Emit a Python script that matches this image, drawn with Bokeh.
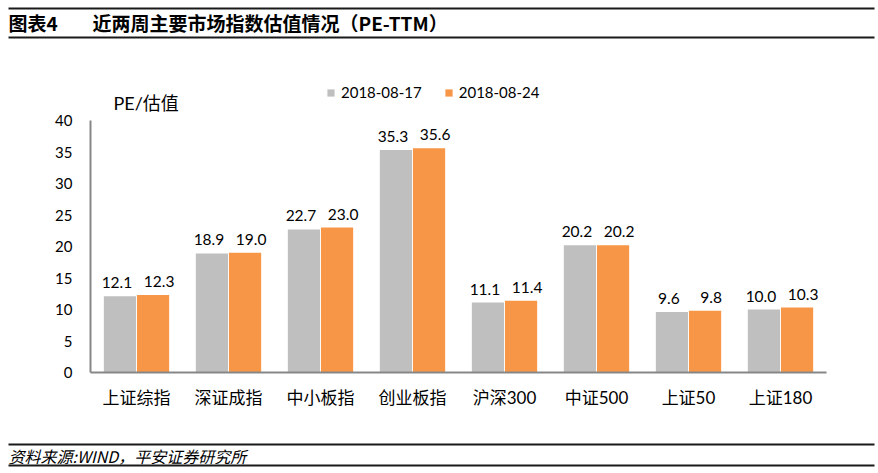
from bokeh.plotting import figure
from bokeh.layouts import column, row
from bokeh.models import (ColumnDataSource, FactorRange, Range1d, FixedTicker, Label,
                          Legend, LegendItem)
from bokeh.transform import dodge
from bokeh.core.properties import value
from bokeh.embed import file_html
from bokeh.resources import INLINE

categories = ["上证综指", "深证成指", "中小板指", "创业板指", "沪深300", "中证500", "上证50", "上证180"]
series_names = ["2018-08-17", "2018-08-24"]
pe_0817 = [12.1, 18.9, 22.7, 35.3, 11.1, 20.2, 9.6, 10.0]
pe_0824 = [12.3, 19.0, 23.0, 35.6, 11.4, 20.2, 9.8, 10.3]
y_ticks = [0, 5, 10, 15, 20, 25, 30, 35, 40]
title_tag = "图表4"
title_text = "近两周主要市场指数估值情况（PE-TTM）"
y_title = "PE/估值"
source_text = "资料来源:WIND，平安证券研究所"

FONT = "Lato, 'Noto Sans CJK SC', sans-serif"
CJK = "'Noto Sans CJK SC', sans-serif"
GRAY = "#BFBFBF"
ORANGE = "#F79646"
RULE = "#1a1a1a"

W = 878
HEAD_H, MAIN_H, FOOT_H = 40, 400, 33


def blank(height, y0, y1):
    f = figure(width=W, height=height, output_backend="svg", toolbar_location=None,
               x_range=Range1d(0, W), y_range=Range1d(y0, y1),
               min_border=0, min_border_left=0, min_border_right=0,
               min_border_top=0, min_border_bottom=0,
               x_axis_location=None, y_axis_location=None)
    f.outline_line_color = None
    f.grid.grid_line_color = None
    return f


# ---- header (page coords, y downward) ----
head = blank(HEAD_H, HEAD_H, 0)
head.segment(x0=[8, 8], x1=[874, 874], y0=[8, 37], y1=[8, 37], line_color=RULE, line_width=2)
head.text(x=[8], y=[22], text=[title_tag], text_font=value(CJK), text_font_size="19px",
          text_font_style="bold", text_baseline="middle", text_color="#000000")
head.text(x=[92], y=[22], text=[title_text], text_font=value(CJK), text_font_size="19px",
          text_font_style="bold", text_baseline="middle", text_color="#000000")

# ---- main chart ----
src = ColumnDataSource(dict(
    cat=categories,
    a=pe_0817,
    b=pe_0824,
    a_txt=[f"{v:.1f}" for v in pe_0817],
    b_txt=[f"{v:.1f}" for v in pe_0824],
))

BOTTOM = 68
frame_h = MAIN_H - BOTTOM
y_top = 40 * frame_h / 252.0
p = figure(width=W, height=MAIN_H, output_backend="svg", toolbar_location=None,
           x_range=FactorRange(factors=categories, range_padding=0),
           y_range=Range1d(0, y_top),
           min_border_left=90, min_border_right=W - 826, min_border_top=0, min_border_bottom=BOTTOM)
p.outline_line_color = None
p.xgrid.grid_line_color = None
p.ygrid.grid_line_color = None

r1 = p.vbar(x=dodge("cat", -0.18, range=p.x_range), top="a", width=0.35, source=src,
            fill_color=GRAY, line_color=None)
r2 = p.vbar(x=dodge("cat", 0.18, range=p.x_range), top="b", width=0.35, source=src,
            fill_color=ORANGE, line_color=None)

for col, top, off, xo in (("a_txt", "a", -0.18, -3), ("b_txt", "b", 0.18, 6)):
    p.text(x=dodge("cat", off, range=p.x_range), y=top, text=col, source=src,
           text_align="center", text_baseline="bottom", x_offset=xo, y_offset=-8,
           text_font=value(FONT), text_font_size="15.5px", text_color="#000000")

p.yaxis.ticker = FixedTicker(ticks=y_ticks)
p.yaxis.bounds = (0, 40)
for ax in (p.xaxis, p.yaxis):
    ax.axis_line_color = "#878787"
    ax.axis_line_width = 2
    ax.major_tick_line_color = None
    ax.minor_tick_line_color = None
    ax.major_tick_out = 0
    ax.major_tick_in = 0
    ax.major_label_text_font = FONT
    ax.major_label_text_color = "#000000"
p.yaxis.major_label_text_font_size = "15px"
p.xaxis.major_label_text_font_size = "17px"
p.yaxis.major_label_standoff = 18
p.xaxis.major_label_standoff = 14

legend = Legend(items=[LegendItem(label=series_names[0], renderers=[r1]),
                       LegendItem(label=series_names[1], renderers=[r2])],
                orientation="horizontal", location=(236, 271),
                glyph_width=9, glyph_height=9, label_standoff=6, spacing=22,
                padding=0, margin=0, border_line_color=None, background_fill_alpha=0,
                label_text_font=FONT, label_text_font_size="15px", label_text_color="#000000")
p.add_layout(legend)

p.add_layout(Label(x=23, y=frame_h - 62, x_units="screen", y_units="screen", text=y_title,
                   text_font=FONT, text_font_size="18px", text_baseline="middle",
                   text_color="#000000"))

# ---- footer (page coords, y downward) ----
foot = blank(FOOT_H, 473, 440)
foot.segment(x0=[8, 8], x1=[874, 874], y0=[444, 465], y1=[444, 465], line_color=RULE, line_width=2)
foot.text(x=[8], y=[455], text=[source_text], text_font=value(CJK), text_font_size="16px",
          text_font_style="italic", text_baseline="middle", text_color="#000000")

layout = column(row(head), row(p), row(foot), spacing=0)
open("out.html", "w").write(file_html(layout, INLINE))
